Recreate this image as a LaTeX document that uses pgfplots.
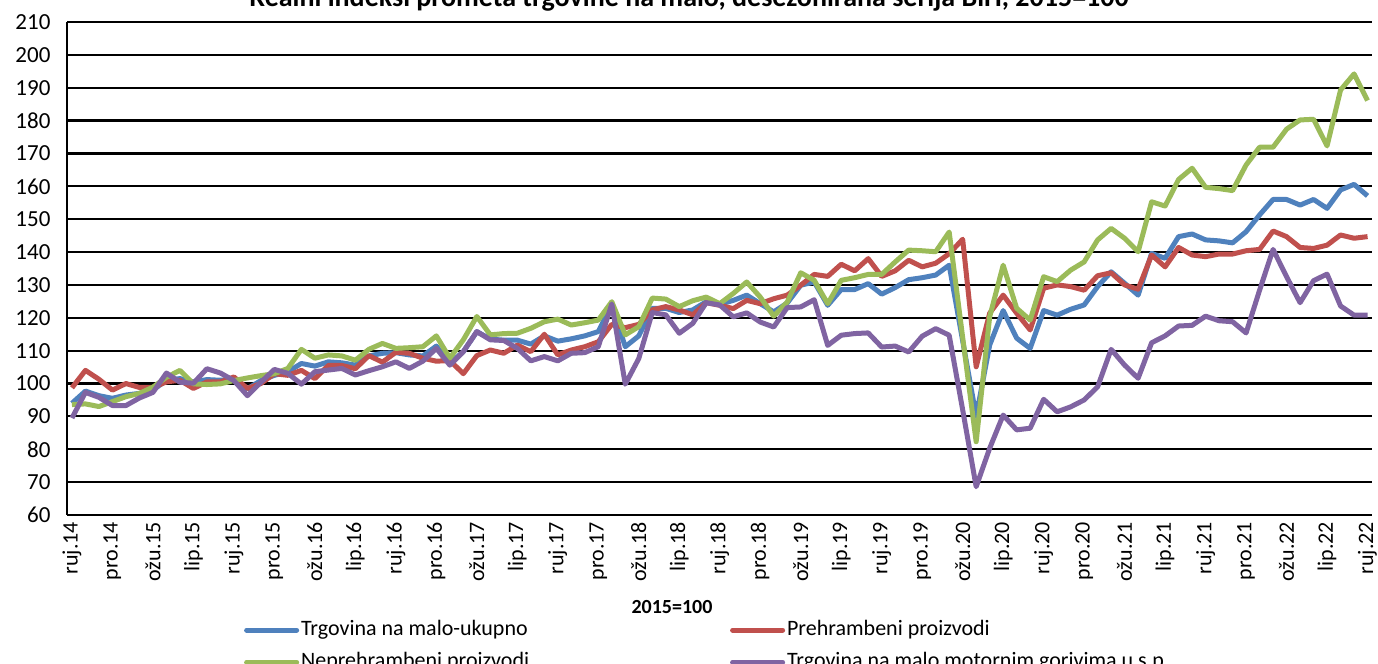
\documentclass[border=0pt]{standalone}
\usepackage{fontspec}
\setmainfont{Carlito}
\usepackage{pgfplots}
\pgfplotsset{compat=1.18}
\usepackage{pgfplotstable}
\definecolor{cblue}{HTML}{4F81BD}
\definecolor{cred}{HTML}{C0504D}
\definecolor{cgreen}{HTML}{9BBB59}
\definecolor{cpurple}{HTML}{8064A2}
\pgfplotstableread{
i tot food nonfood fuel
0 94.0 98.7 93.6 89.5
1 97.7 104.0 93.8 97.3
2 96.3 101.3 93.0 95.8
3 95.5 98.0 94.5 93.3
4 96.5 100.0 96.0 93.3
5 97.0 98.8 97.0 95.6
6 98.0 98.8 98.9 97.3
7 101.0 100.5 101.9 103.2
8 101.5 101.0 104.0 100.4
9 100.5 98.5 99.9 100.1
10 101.2 100.5 99.7 104.5
11 101.0 100.5 99.9 103.2
12 101.4 102.0 100.9 100.9
13 98.4 98.5 101.7 96.3
14 100.9 100.0 102.4 100.4
15 102.5 103.0 103.0 104.3
16 103.6 102.5 104.6 103.1
17 106.1 104.0 110.4 99.8
18 105.3 101.5 107.7 103.6
19 106.6 105.5 108.7 104.1
20 106.3 105.5 108.4 104.6
21 105.6 104.5 107.1 102.6
22 108.4 108.5 110.4 103.9
23 109.2 106.5 112.2 105.1
24 109.4 109.5 110.7 106.6
25 108.7 109.2 110.9 104.6
26 108.4 107.7 111.2 106.8
27 111.4 106.8 114.5 110.7
28 106.1 107.0 107.7 105.6
29 109.7 103.0 113.3 109.7
30 115.8 108.5 120.4 115.8
31 113.5 110.2 114.8 113.3
32 113.2 109.2 115.2 113.1
33 113.2 111.7 115.3 110.7
34 112.0 109.7 116.8 106.9
35 114.5 115.0 118.8 108.2
36 112.9 108.7 119.6 106.9
37 113.6 110.2 117.8 109.2
38 114.5 111.2 118.5 109.4
39 115.8 112.7 119.3 111.2
40 123.9 118.0 124.9 124.2
41 111.2 117.0 114.8 99.8
42 114.5 118.0 117.3 107.6
43 122.9 122.4 126.0 121.6
44 122.9 123.4 125.7 120.9
45 121.6 122.4 123.4 115.3
46 122.4 120.9 125.2 118.3
47 124.9 124.6 126.3 124.6
48 124.1 123.8 124.3 123.9
49 125.3 122.8 127.4 120.3
50 126.9 125.3 130.9 121.5
51 124.3 124.3 126.3 118.7
52 121.8 125.8 120.5 117.2
53 124.5 126.9 124.8 123.1
54 129.9 129.9 133.7 123.3
55 130.9 133.2 131.4 125.5
56 123.8 132.6 124.3 111.6
57 128.6 136.3 131.4 114.7
58 128.6 134.3 132.2 115.2
59 130.4 138.0 133.2 115.4
60 127.2 132.6 133.2 111.1
61 129.2 134.3 137.0 111.4
62 131.6 137.5 140.6 109.6
63 132.2 135.5 140.4 114.4
64 133.0 136.6 140.1 116.7
65 136.0 139.5 146.1 114.7
66 113.0 143.9 114.0 92.0
67 90.0 105.1 82.3 68.6
68 111.7 121.4 120.3 80.3
69 122.2 126.9 136.0 90.4
70 113.8 121.4 122.9 85.9
71 110.7 116.3 119.3 86.4
72 122.2 129.0 132.5 95.2
73 120.8 130.0 131.0 91.4
74 122.6 129.5 134.5 92.9
75 123.9 128.4 137.0 95.0
76 129.5 132.8 143.7 99.0
77 134.0 133.7 147.2 110.4
78 130.5 130.0 144.2 105.6
79 126.9 128.7 140.1 101.6
80 139.6 139.1 155.3 112.4
81 138.1 135.5 154.0 114.5
82 144.7 141.4 162.1 117.5
83 145.5 139.1 165.5 117.7
84 143.7 138.6 159.7 120.5
85 143.4 139.4 159.3 119.1
86 142.8 139.4 158.7 118.8
87 146.2 140.4 166.5 115.4
88 151.3 140.8 171.9 128.4
89 156.0 146.4 171.9 140.8
90 156.0 144.7 177.4 132.5
91 154.3 141.4 180.2 124.6
92 156.0 141.1 180.4 131.3
93 153.3 142.1 172.3 133.3
94 158.9 145.2 189.3 123.6
95 160.6 144.2 194.2 120.8
96 157.1 144.7 186.1 120.8
}\data
\begin{document}
\begin{tikzpicture}
\begin{axis}[
  scale only axis, width=652.25pt, height=246.5pt,
  at={(0pt,0pt)}, anchor=south west,
  xmin=-0.33, xmax=96.33, ymin=60, ymax=210,
  ytick={60,70,...,210},
  xtick={0,3,...,96},
  xticklabels={ruj.14,pro.14,ožu.15,lip.15,ruj.15,pro.15,ožu.16,lip.16,ruj.16,pro.16,ožu.17,lip.17,ruj.17,pro.17,ožu.18,lip.18,ruj.18,pro.18,ožu.19,lip.19,ruj.19,pro.19,ožu.20,lip.20,ruj.20,pro.20,ožu.21,lip.21,ruj.21,pro.21,ožu.22,lip.22,ruj.22},
  xticklabel style={rotate=90, anchor=east, font=\fontsize{11}{13}\selectfont},
  yticklabel style={font=\fontsize{11.5}{13}\selectfont, xshift=-5pt},
  /pgf/number format/assume math mode=true,
  axis lines=left, axis line style={-, black, line width=1pt},
  major tick length=0pt,
  ymajorgrids, grid style={black, line width=1.1pt},
  every axis plot/.append style={line width=2.5pt, line join=round, mark=none},
  legend columns=2,
  legend cell align=left,
  legend style={at={(axis description cs:0.1305,-0.195)}, anchor=north west, draw=none, fill=none,
    font=\fontsize{11}{13}\selectfont,
    nodes={text height=8pt, text depth=2.5pt, inner ysep=2pt, inner xsep=1pt},
    row sep=1.5pt,
    /tikz/every even column/.append style={column sep=99.5pt}},
  legend image code/.code={\draw[#1, line width=2.5pt, line cap=round] (0pt,0pt) -- (25pt,0pt);},
]
\addplot[cblue] table[x=i, y=tot] {\data};
\addlegendentry{Trgovina na malo-ukupno}
\addplot[cred] table[x=i, y=food] {\data};
\addlegendentry{Prehrambeni proizvodi}
\addplot[cgreen] table[x=i, y=nonfood] {\data};
\addlegendentry{Neprehrambeni proizvodi}
\addplot[cpurple] table[x=i, y=fuel] {\data};
\addlegendentry{Trgovina na malo motornim gorivima u s.p.}
\end{axis}
\node[anchor=base, font=\bfseries\fontsize{14}{16}\selectfont] at (310.75pt,254pt) {Realni indeksi prometa trgovine na malo, desezonirana serija BiH, 2015=100};
\node[anchor=base, font=\bfseries\fontsize{10}{12}\selectfont] at (302.25pt,-49.5pt) {2015=100};
\pgfresetboundingbox
\useasboundingbox (-33.75pt,-74.5pt) rectangle (655.25pt,257.5pt);
\end{tikzpicture}
\end{document}
